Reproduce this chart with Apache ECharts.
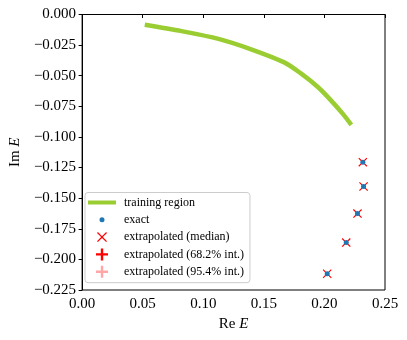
<!DOCTYPE html>
<html>
<head>
<meta charset="utf-8">
<script src="https://cdn.jsdelivr.net/npm/echarts@6/dist/echarts.min.js"></script>
<style>
  html, body { margin: 0; padding: 0; background: #fff; }
  #myChart { width: 407px; height: 340px; }
</style>
</head>
<body>
<div id="myChart"></div>
<script>
// training region curve (Re E, Im E)
const trainRe = [0.0517, 0.0822, 0.1125, 0.1395, 0.1668, 0.1800, 0.1941, 0.205, 0.2159, 0.2222];
const trainIm = [-0.0084, -0.0136, -0.0199, -0.0284, -0.0391, -0.0477, -0.0588, -0.0697, -0.082, -0.0902];

// resonance points
const exactRe = [0.2317, 0.2323, 0.2273, 0.218, 0.2023];
const exactIm = [-0.1206, -0.1405, -0.1626, -0.1863, -0.2117];
const medianRe = [0.2317, 0.2323, 0.2273, 0.218, 0.2023];
const medianIm = [-0.1206, -0.1405, -0.1626, -0.1863, -0.2117];

const xTicks = [0, 0.05, 0.1, 0.15, 0.2, 0.25];
const yTicks = [0, -0.025, -0.05, -0.075, -0.1, -0.125, -0.15, -0.175, -0.2, -0.225];

const zip = (a, b) => a.map((v, i) => [v, b[i]]);

const font = "Liberation Serif";
// legend icons (the leading M0,0 M.. points fix the icon box so small marks keep their size)
const lineIcon = "path://M0,0 M28,12 M0,4 H28 V8 H0 Z";
const dotIcon = "path://M0,0 M12,12 M3.5,6 A2.5,2.5 0 1 1 8.5,6 A2.5,2.5 0 1 1 3.5,6 Z";
const crossIcon = "path://M0,0 M12,12 M1,1.9 L1.9,1 L6,5.1 L10.1,1 L11,1.9 L6.9,6 L11,10.1 L10.1,11 L6,6.9 L1.9,11 L1,10.1 L5.1,6 Z";
const plusIcon = "path://M4.8,0 H7.2 V4.8 H12 V7.2 H7.2 V12 H4.8 V7.2 H0 V4.8 H4.8 Z";
// plot markers
const xMarker = "path://M0,0.9 L0.9,0 L5,4.1 L9.1,0 L10,0.9 L5.9,5 L10,9.1 L9.1,10 L5,5.9 L0.9,10 L0,9.1 L4.1,5 Z";
const plusMarker = "path://M4.3,0 H5.7 V4.3 H10 V5.7 H5.7 V10 H4.3 V5.7 H0 V4.3 H4.3 Z";

let myChart = echarts.init(document.getElementById("myChart"));
let option = {
  animation: false,
  grid: {
    left: 79.5, right: 22, top: 14.5, bottom: 50,
    show: true, borderColor: "#000", borderWidth: 1
  },
  xAxis: {
    type: "value",
    min: 0, max: 0.25, interval: 0.05,
    name: "Re {i|E}",
    nameLocation: "middle",
    nameGap: 24,
    nameTextStyle: { fontFamily: font, fontSize: 15, color: "#000",
      rich: { i: { fontFamily: font, fontSize: 15, fontStyle: "italic", color: "#000" } } },
    axisLine: { lineStyle: { color: "#000", width: 1 } },
    axisTick: { length: 3.5, lineStyle: { color: "#000" } },
    splitLine: { show: false },
    axisLabel: { margin: 7, color: "#000", fontFamily: font, fontSize: 15,
      formatter: v => v.toFixed(2) }
  },
  yAxis: {
    type: "value",
    min: -0.225, max: 0, interval: 0.025,
    name: "Im {i|E}",
    nameLocation: "middle",
    nameRotate: 90,
    nameGap: 53,
    nameTextStyle: { fontFamily: font, fontSize: 15, color: "#000",
      rich: { i: { fontFamily: font, fontSize: 15, fontStyle: "italic", color: "#000" } } },
    axisLine: { show: true, lineStyle: { color: "#000", width: 1 } },
    axisTick: { show: true, length: 3.5, lineStyle: { color: "#000" } },
    splitLine: { show: false },
    axisLabel: { margin: 6, color: "#000", fontFamily: font, fontSize: 15,
      formatter: v => (v < -1e-9 ? "\u2212" : "") + Math.abs(v).toFixed(3) }
  },
  legend: {
    orient: "vertical",
    left: 85, top: 192.5,
    itemWidth: 28, itemHeight: 12, itemGap: 5.3,
    padding: [4, 6, 5, 3],
    borderColor: "#cccccc", borderWidth: 1, borderRadius: 3,
    backgroundColor: "rgba(255,255,255,0.8)",
    textStyle: { fontFamily: font, fontSize: 12, color: "#000", padding: [0, 0, 0, 3] },
    data: [
      { name: "training region", icon: lineIcon },
      { name: "exact", icon: dotIcon },
      { name: "extrapolated (median)", icon: crossIcon },
      { name: "extrapolated (68.2% int.)", icon: plusIcon },
      { name: "extrapolated (95.4% int.)", icon: plusIcon }
    ]
  },
  series: [
    {
      name: "training region",
      type: "line",
      data: zip(trainRe, trainIm),
      smooth: 0.3,
      showSymbol: false,
      symbol: "none",
      lineStyle: { color: "#9acd32", width: 4.5 },
      itemStyle: { color: "#9acd32" }
    },
    {
      name: "exact",
      type: "scatter",
      data: zip(exactRe, exactIm),
      symbol: "circle",
      symbolSize: 5,
      itemStyle: { color: "#1f77b4", opacity: 1 },
      z: 5
    },
    {
      name: "extrapolated (median)",
      type: "scatter",
      data: zip(medianRe, medianIm),
      symbol: xMarker,
      symbolSize: 9,
      itemStyle: { color: "#ff0000", opacity: 1 },
      z: 3
    },
    {
      name: "extrapolated (68.2% int.)",
      type: "scatter",
      data: zip(medianRe, medianIm),
      symbol: plusMarker,
      symbolSize: 3,
      itemStyle: { color: "#ff0000", opacity: 1 },
      z: 4
    },
    {
      name: "extrapolated (95.4% int.)",
      type: "scatter",
      data: zip(medianRe, medianIm),
      symbol: plusMarker,
      symbolSize: 4,
      itemStyle: { color: "rgba(255,0,0,0.35)", opacity: 1 },
      z: 2
    }
  ]
};
myChart.setOption(option);
</script>
</body>
</html>
